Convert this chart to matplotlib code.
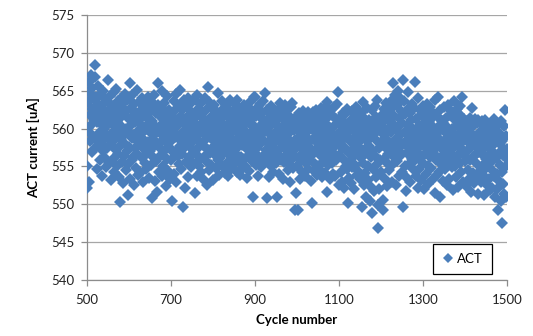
import numpy as np
import matplotlib
matplotlib.use("Agg")
import matplotlib.pyplot as plt

plt.rcParams['font.family'] = ['Lato', 'DejaVu Sans']

# ACT current readings (uA), one per cycle from 500 to 1500
act_current = [
    555.0, 552.2, 563.5, 560.1, 566.2, 553.0, 561.8, 558.4, 564.7, 567.1, 559.3, 562.6, 556.9, 565.4, 560.8, 557.2, 563.9, 561.1, 566.8, 568.4, 558.6, 564.2, 562.0, 554.7, 560.9,  # 500
    563.3, 557.8, 565.6, 559.4, 561.7, 555.9, 562.8, 564.5, 558.1, 560.6, 553.8, 563.1, 557.0, 561.4, 565.0, 559.9, 556.3, 562.2, 564.0, 558.8, 554.9, 560.3, 563.7, 557.5, 561.2,  # 525
    566.4, 559.0, 562.4, 555.4, 560.7, 564.3, 557.9, 553.2, 561.6, 563.0, 558.2, 556.0, 562.9, 559.6, 564.8, 554.2, 560.4, 557.3, 562.1, 565.2, 558.9, 555.1, 561.0, 563.6, 556.6,  # 550
    559.8, 562.5, 553.6, 557.7, 550.3, 561.5, 564.1, 558.5, 555.6, 560.2, 563.4, 552.8, 559.1, 561.9, 556.4, 564.6, 558.0, 554.5, 562.3, 560.0, 557.1, 563.8, 555.3, 551.2, 559.5,  # 575
    561.3, 557.6, 566.0, 553.4, 560.5, 562.7, 555.8, 558.7, 564.4, 556.2, 561.6, 559.2, 552.6, 563.2, 557.4, 560.9, 554.8, 562.0, 558.3, 565.1, 556.7, 559.7, 553.9, 561.1, 563.5,  # 600
    557.9, 560.6, 554.1, 562.4, 558.8, 556.1, 564.0, 559.4, 552.9, 561.7, 557.3, 563.3, 555.5, 560.1, 558.4, 562.9, 554.6, 559.9, 561.4, 556.8, 564.2, 558.2, 553.5, 560.7, 562.2,  # 625
    557.0, 559.6, 563.7, 555.2, 561.0, 550.8, 558.6, 562.6, 556.3, 564.5, 559.1, 553.1, 560.4, 557.8, 562.1, 555.7, 559.8, 551.6, 563.1, 566.0, 558.0, 561.8, 554.3, 560.3, 557.5,  # 650
    562.8, 556.5, 559.3, 564.9, 553.7, 561.2, 558.5, 555.0, 563.4, 560.0, 557.2, 562.3, 552.4, 559.0, 561.5, 556.0, 564.3, 558.1, 554.4, 560.8, 562.5, 557.6, 559.5, 553.3, 561.9,  # 675
    558.3, 555.9, 550.5, 562.0, 559.7, 556.9, 563.6, 560.2, 554.0, 558.9, 561.3, 557.1, 564.6, 553.0, 559.2, 562.7, 556.4, 560.5, 558.6, 555.3, 563.0, 565.1, 557.7, 561.6, 554.7,  # 700
    559.4, 562.4, 556.6, 560.9, 549.6, 557.4, 563.8, 558.4, 552.1, 561.1, 559.9, 555.6, 562.9, 557.9, 560.3, 564.1, 553.6, 558.8, 561.8, 556.2, 559.1, 563.2, 554.9, 560.6, 557.3,  # 725
    562.1, 558.2, 555.4, 560.0, 563.9, 557.0, 559.6, 551.5, 561.4, 556.7, 558.7, 564.4, 553.8, 560.4, 562.6, 557.5, 555.1, 559.3, 561.9, 556.0, 563.3, 558.0, 554.2, 560.8, 562.2,  # 750
    557.8, 559.8, 553.4, 561.2, 556.3, 564.0, 558.5, 560.1, 555.7, 562.5, 552.5, 559.0, 565.5, 557.2, 561.0, 554.5, 563.5, 558.9, 556.8, 560.7, 562.8, 555.2, 559.5, 561.6, 557.6,  # 775
    553.2, 560.2, 563.1, 558.3, 556.5, 561.7, 559.2, 554.8, 562.3, 557.1, 560.9, 555.8, 564.7, 558.7, 553.9, 561.3, 559.7, 556.1, 562.0, 557.9, 560.5, 563.6, 555.0, 558.6, 561.5,  # 800
    556.9, 559.4, 562.7, 554.1, 560.3, 557.4, 563.0, 558.1, 555.5, 561.8, 559.1, 553.7, 562.4, 557.7, 560.0, 556.4, 563.8, 558.8, 554.6, 561.0, 559.6, 555.9, 562.2, 557.0, 560.7,  # 825
    558.4, 555.3, 561.4, 563.3, 556.7, 559.8, 554.3, 563.8, 557.5, 560.4, 562.1, 555.6, 558.9, 561.1, 553.9, 559.3, 562.6, 556.2, 560.1, 557.8, 554.7, 561.7, 558.2, 563.1, 556.0,  # 850
    559.7, 562.0, 555.0, 558.5, 560.8, 553.5, 561.9, 557.3, 559.0, 562.9, 556.5, 554.4, 560.6, 558.0, 563.5, 557.1, 561.2, 555.7, 559.5, 562.3, 551.0, 557.6, 560.3, 564.2, 556.8,  # 875
    564.2, 558.7, 561.6, 555.2, 559.9, 557.4, 562.8, 553.8, 560.0, 558.3, 556.1, 561.5, 563.2, 557.9, 559.2, 554.9, 562.1, 558.6, 560.7, 556.4, 563.6, 555.5, 559.6, 561.0, 564.7,  # 900
    557.2, 560.2, 555.8, 562.4, 550.8, 558.1, 561.3, 556.9, 559.4, 553.6, 562.7, 557.7, 560.5, 555.1, 563.0, 558.9, 556.3, 561.8, 559.1, 554.2, 562.0, 557.5, 560.9, 556.6, 558.4,  # 925
    561.4, 555.4, 551.0, 559.7, 562.5, 557.0, 560.1, 554.0, 558.6, 563.4, 556.2, 559.3, 561.6, 555.9, 558.0, 562.2, 553.3, 560.4, 557.8, 561.1, 555.6, 559.0, 563.1, 557.3, 560.6,  # 950
    556.7, 558.8, 562.6, 554.5, 560.0, 557.6, 561.7, 555.3, 559.5, 552.9, 562.9, 558.2, 556.0, 563.4, 560.8, 557.1, 554.8, 561.2, 559.8, 556.5, 549.2, 558.5, 551.5, 560.3, 557.9,  # 975
    555.0, 561.5, 549.2, 558.7, 562.0, 556.3, 559.6, 553.4, 560.9, 557.4, 555.7, 561.9, 558.1, 554.2, 560.4, 562.3, 556.8, 559.1, 553.8, 557.9, 561.3, 555.5, 558.9, 560.6, 556.1,  # 1000
    562.2, 557.7, 554.7, 559.8, 561.0, 555.9, 558.4, 560.2, 553.1, 557.2, 559.9, 550.2, 562.2, 556.6, 558.6, 561.7, 554.4, 557.0, 560.0, 555.3, 562.5, 558.3, 553.9, 560.7, 557.6,  # 1025
    559.3, 555.0, 561.4, 557.9, 554.5, 560.5, 562.7, 556.4, 558.8, 553.6, 561.1, 557.3, 559.7, 555.6, 562.0, 558.0, 554.1, 560.8, 556.9, 559.2, 563.0, 551.6, 563.5, 557.5, 555.2,  # 1050
    561.6, 558.5, 556.0, 560.1, 553.3, 562.4, 557.1, 559.5, 555.4, 561.8, 558.2, 554.0, 560.3, 556.7, 562.8, 559.0, 553.7, 557.8, 561.2, 555.8, 558.9, 563.3, 556.2, 564.8, 559.4,  # 1075
    556.5, 552.6, 560.6, 558.1, 554.3, 561.5, 557.4, 559.8, 553.0, 562.1, 556.0, 558.7, 560.9, 552.2, 557.5, 561.9, 555.1, 559.2, 554.6, 562.6, 557.0, 550.2, 560.2, 556.8, 553.5,  # 1100
    561.0, 558.4, 555.7, 559.9, 552.8, 562.3, 557.2, 554.9, 560.5, 556.3, 558.8, 552.0, 561.6, 557.9, 555.2, 559.4, 562.9, 553.9, 558.1, 560.7, 556.6, 554.4, 561.3, 557.6, 559.6,  # 1125
    553.4, 560.1, 556.1, 562.0, 558.6, 549.7, 563.5, 555.5, 559.0, 552.5, 561.4, 557.3, 554.1, 560.8, 556.9, 551.0, 558.3, 562.7, 555.0, 559.7, 553.2, 561.1, 557.7, 550.4, 560.3,  # 1150
    556.2, 558.9, 552.3, 562.4, 548.8, 557.0, 560.6, 554.7, 559.3, 551.7, 563.0, 556.4, 553.6, 558.5, 561.5, 563.8, 555.3, 549.9, 546.9, 559.8, 557.5, 552.0, 560.9, 555.8, 558.0,  # 1175
    561.7, 554.2, 557.8, 560.4, 550.6, 549.2, 559.1, 562.6, 556.0, 553.3, 558.7, 561.2, 555.6, 563.4, 557.3, 552.4, 560.0, 556.7, 562.1, 558.2, 554.5, 561.0, 557.1, 563.7, 559.5,  # 1200
    555.2, 560.7, 553.0, 562.8, 566.0, 558.4, 556.3, 561.6, 564.5, 557.6, 559.9, 552.6, 563.1, 558.8, 555.7, 560.2, 565.0, 557.0, 553.8, 561.4, 559.2, 564.1, 556.5, 562.3, 558.0,  # 1225
    554.3, 560.8, 566.4, 549.7, 557.9, 563.6, 559.6, 555.0, 561.9, 551.8, 558.3, 562.5, 556.8, 553.5, 560.5, 564.8, 557.4, 559.0, 555.4, 562.0, 552.9, 558.6, 561.1, 556.0, 563.2,  # 1250
    559.3, 554.7, 560.0, 557.2, 562.7, 555.9, 566.2, 558.1, 553.7, 561.3, 556.9, 559.7, 552.1, 564.0, 557.5, 560.3, 554.6, 562.4, 558.9, 556.2, 561.8, 553.2, 559.5, 557.8, 563.0,  # 1275
    555.5, 560.6, 552.0, 558.4, 562.2, 556.6, 559.1, 554.0, 561.5, 557.3, 563.3, 555.1, 559.8, 552.7, 560.9, 557.9, 562.8, 556.3, 558.5, 554.8, 561.2, 557.0, 559.4, 553.4, 562.0,  # 1300
    556.7, 560.1, 558.0, 551.5, 563.8, 555.8, 559.2, 557.4, 561.7, 553.9, 558.8, 564.2, 556.1, 560.4, 554.3, 551.0, 562.5, 557.6, 559.9, 555.3, 561.0, 558.2, 553.1, 560.8, 556.5,  # 1325
    562.9, 557.1, 559.6, 554.6, 561.4, 556.0, 558.7, 552.6, 560.2, 563.1, 555.6, 559.0, 557.7, 553.3, 561.8, 556.9, 558.3, 562.3, 554.9, 560.0, 557.3, 551.9, 559.4, 563.6, 556.2,  # 1350
    558.9, 555.0, 561.1, 557.8, 553.6, 560.5, 562.6, 556.4, 559.1, 552.3, 558.1, 561.9, 555.4, 563.0, 557.5, 560.7, 554.2, 559.8, 564.2, 556.8, 558.4, 553.0, 561.3, 557.0, 559.5,  # 1375
    555.7, 560.3, 552.4, 558.6, 561.0, 556.1, 554.5, 559.7, 557.2, 560.9, 553.3, 558.0, 555.9, 561.4, 557.6, 551.6, 559.2, 562.7, 556.3, 554.1, 560.4, 557.9, 552.8, 559.0, 561.2,  # 1400
    556.6, 558.5, 553.6, 560.8, 555.3, 557.4, 561.1, 551.4, 559.4, 556.9, 554.4, 558.9, 560.6, 552.9, 557.1, 555.0, 561.0, 558.2, 553.9, 559.6, 556.4, 551.2, 561.1, 557.8, 554.8,  # 1425
    559.9, 556.0, 552.5, 558.7, 560.5, 555.4, 557.5, 553.4, 560.0, 556.7, 551.9, 558.3, 554.6, 560.7, 557.0, 552.2, 559.1, 555.8, 561.3, 556.3, 553.7, 558.1, 551.0, 560.2, 556.1,  # 1450
    554.0, 558.6, 552.0, 560.6, 549.2, 556.8, 553.1, 559.4, 555.2, 557.9, 550.5, 561.0, 554.3, 547.5, 558.4, 552.7, 556.5, 560.3, 551.4, 557.2, 562.4, 554.9, 559.0, 550.9, 556.0,  # 1475
    557.3,  # 1500
]
cycles = list(range(500, 500 + len(act_current)))

x_ticks = [500, 700, 900, 1100, 1300, 1500]
y_ticks = [540, 545, 550, 555, 560, 565, 570, 575]

W, H = 533, 336
fig = plt.figure(figsize=(W / 100, H / 100), dpi=100)
ax = fig.add_axes([87 / W, 1 - 280 / H, 420 / W, 265 / H])

ax.plot(cycles, act_current, linestyle='none', marker='D', markersize=6.3,
        color='#4A7EBB', markeredgewidth=0, label='ACT', zorder=3)

ax.set_xlim(500, 1500)
ax.set_ylim(540, 575)
ax.set_xticks(x_ticks)
ax.set_yticks(y_ticks)
ax.yaxis.grid(True, color='#a6a6a6', linewidth=0.9)
ax.set_axisbelow(True)

for side in ['top', 'right']:
    ax.spines[side].set_visible(False)
for side in ['left', 'bottom']:
    ax.spines[side].set_color('#8c8c8c')
    ax.spines[side].set_linewidth(0.9)

ax.tick_params(axis='both', direction='out', length=4, width=0.9, color='#8c8c8c',
               labelsize=9.5, labelcolor='#222222')
ax.tick_params(axis='y', pad=5)
ax.tick_params(axis='x', pad=6)

ax.set_xlabel('Cycle number', fontsize=9.5, fontweight='bold', labelpad=6)
ax.set_ylabel('ACT current [uA]', fontsize=9.5, fontweight='bold', labelpad=8)

leg = ax.legend(loc='lower right', bbox_to_anchor=(492 / W, 1 - 274 / H),
                bbox_transform=fig.transFigure, borderaxespad=0, fancybox=False,
                edgecolor='black', framealpha=1, fontsize=9.5, handlelength=0.8,
                handletextpad=0.3, borderpad=0.7, markerscale=0.85)
leg.get_frame().set_linewidth(0.9)

fig.savefig('out.png', dpi=100)
